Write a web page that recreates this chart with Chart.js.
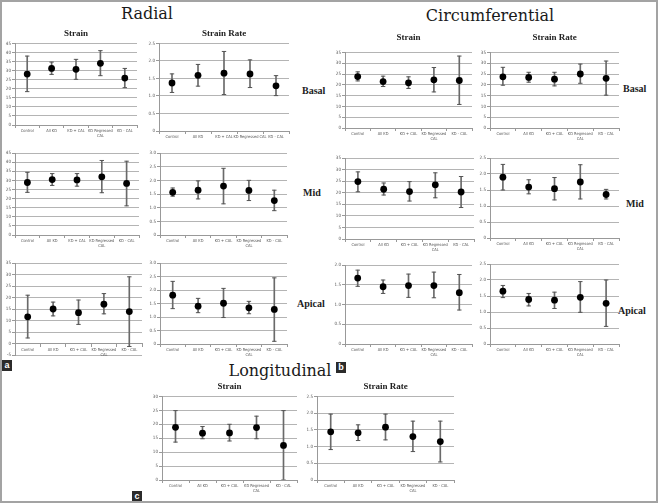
<!DOCTYPE html>
<html>
<head>
<meta charset="utf-8">
<script src="https://cdn.jsdelivr.net/npm/chart.js@4.4.0/dist/chart.umd.min.js"></script>
<style>
  body { margin: 0; background: #fff; }
  #fig { position: relative; width: 658px; height: 503px; overflow: hidden; background: #fff; }
  #frame { position: absolute; left: 0; top: 0; width: 658px; height: 503px; box-sizing: border-box; border: 2px solid #a3a3a3; }
  canvas { position: absolute; }
  .head { position: absolute; font-family: 'DejaVu Serif', serif; font-size: 16px; color: #1a1a1a; white-space: nowrap; transform: translate(-50%, -50%); }
  .row { position: absolute; font-family: 'Liberation Serif', serif; font-size: 10px; font-weight: bold; color: #222; white-space: nowrap; transform: translateY(-50%); }
  .tag { position: absolute; width: 10px; height: 11px; background: #2b2b2b; color: #fff; font: bold 9px 'Liberation Sans', sans-serif; text-align: center; line-height: 11px; }
</style>
</head>
<body>
<div id="fig">
  <div class="head" style="left:147px; top:13px;">Radial</div>
  <div class="head" style="left:490px; top:15px;">Circumferential</div>
  <div class="head" style="left:280px; top:370px;">Longitudinal</div>

  <div class="row" style="left:302px; top:90px;">Basal</div>
  <div class="row" style="left:303px; top:192px;">Mid</div>
  <div class="row" style="left:297px; top:303px;">Apical</div>
  <div class="row" style="left:623px; top:88px;">Basal</div>
  <div class="row" style="left:626px; top:203px;">Mid</div>
  <div class="row" style="left:618px; top:310px;">Apical</div>

  <div class="tag" style="left:2px; top:360px;">a</div>
  <div class="tag" style="left:336px; top:362px;">b</div>
  <div class="tag" style="left:132px; top:491px;">c</div>
  <div id="frame"></div>
</div>

<script>
// categories
const categories = ['Control', 'All KD', 'KD + CAL', ['KD Regressed', 'CAL'], 'KD - CAL'];
const categoriesOneLine = ['Control', 'All KD', 'KD + CAL', 'KD Regressed CAL', 'KD - CAL'];

// y ranges [min, max, step]
const range45 = [0, 45, 5];
const range35 = [0, 35, 5];
const range30 = [0, 30, 5];
const rangeApical = [-5, 35, 5];
const range3 = [0, 3, 0.5];
const range25 = [0, 2.5, 0.5];
const range2 = [0, 2, 0.5];

// Radial
const radStrainBasal = [28.1, 31.2, 30.7, 34.0, 25.9];
const radStrainBasalLo = [18.4, 27.9, 25.2, 27.2, 20.6];
const radStrainBasalHi = [38.0, 34.7, 36.2, 41.0, 31.2];

const radRateBasal = [1.37, 1.59, 1.65, 1.63, 1.29];
const radRateBasalLo = [1.10, 1.28, 1.04, 1.24, 1.01];
const radRateBasalHi = [1.63, 1.90, 2.27, 2.03, 1.58];

const radStrainMid = [28.8, 30.4, 30.2, 31.9, 28.3];
const radStrainMidLo = [23.4, 27.2, 26.8, 23.2, 16.0];
const radStrainMidHi = [34.4, 33.7, 33.7, 40.9, 40.5];

const radRateMid = [1.56, 1.64, 1.79, 1.63, 1.26];
const radRateMidLo = [1.42, 1.32, 1.14, 1.26, 0.89];
const radRateMidHi = [1.72, 1.98, 2.44, 2.00, 1.64];

const radStrainApical = [11.6, 15.0, 13.4, 17.1, 13.9];
const radStrainApicalLo = [2.4, 12.0, 8.3, 12.9, -1.3];
const radStrainApicalHi = [21.0, 18.0, 18.9, 21.7, 29.0];

const radRateApical = [1.81, 1.40, 1.51, 1.34, 1.28];
const radRateApicalLo = [1.31, 1.16, 0.98, 1.12, 0.10];
const radRateApicalHi = [2.32, 1.69, 2.06, 1.58, 2.45];

// Circumferential
const circStrainBasal = [23.8, 21.5, 20.9, 22.3, 22.0];
const circStrainBasalLo = [21.8, 19.2, 18.3, 16.7, 10.9];
const circStrainBasalHi = [26.0, 24.0, 23.7, 28.0, 33.3];

const circRateBasal = [23.7, 23.4, 22.6, 25.0, 23.0];
const circRateBasalLo = [19.8, 21.2, 19.5, 20.7, 15.2];
const circRateBasalHi = [28.1, 25.8, 25.8, 29.6, 31.0];

const circStrainMid = [24.8, 21.5, 20.5, 23.4, 20.3];
const circStrainMidLo = [20.4, 19.0, 16.4, 17.8, 13.6];
const circStrainMidHi = [29.0, 24.2, 24.8, 28.6, 27.0];

const circRateMid = [1.90, 1.59, 1.54, 1.75, 1.36];
const circRateMidLo = [1.50, 1.38, 1.19, 1.22, 1.22];
const circRateMidHi = [2.30, 1.82, 1.89, 2.29, 1.52];

const circStrainApical = [1.67, 1.45, 1.48, 1.48, 1.30];
const circStrainApicalLo = [1.46, 1.28, 1.18, 1.17, 0.86];
const circStrainApicalHi = [1.87, 1.62, 1.77, 1.82, 1.76];

const circRateApical = [1.65, 1.39, 1.37, 1.46, 1.27];
const circRateApicalLo = [1.45, 1.19, 1.11, 0.99, 0.55];
const circRateApicalHi = [1.83, 1.58, 1.62, 1.95, 2.00];

// Longitudinal
const longStrain = [18.9, 16.8, 16.9, 18.8, 12.4];
const longStrainLo = [13.6, 14.8, 14.0, 14.8, 0.0];
const longStrainHi = [24.9, 19.2, 20.0, 22.9, 24.9];

const longRate = [1.44, 1.41, 1.58, 1.30, 1.15];
const longRateLo = [0.91, 1.18, 1.20, 0.85, 0.54];
const longRateHi = [1.97, 1.65, 1.97, 1.76, 1.76];


const fig = document.getElementById('fig');
const tickFamily = "'Liberation Sans Narrow', 'DejaVu Sans Condensed', sans-serif";

// box = plot area in page pixels, title = {text, y}
function makeChart(box, mean, lo, hi, range, labels, title, crossZero) {
  const yW = 14, padTop = 4, padRight = 4;
  const twoLine = labels.some(l => Array.isArray(l));
  const xH = twoLine ? 18 : 12;
  let titleH = 0, titlePad = 0;
  if (title) {
    titlePad = Math.max(box.y - title.y - 5.4, 0);
    titleH = 10.8 + titlePad;
  }
  const padBottom = crossZero ? 9 : 0;
  const left = box.x - yW;
  const top = box.y - padTop - titleH;
  const width = yW + box.w + padRight;
  const height = padTop + titleH + box.h + (crossZero ? padBottom : xH);

  const canvas = document.createElement('canvas');
  canvas.width = width;
  canvas.height = height;
  canvas.style.left = left + 'px';
  canvas.style.top = top + 'px';
  canvas.style.width = width + 'px';
  canvas.style.height = height + 'px';
  fig.insertBefore(canvas, document.getElementById('frame'));

  new Chart(canvas, {
    type: 'bar',
    data: {
      labels: labels,
      datasets: [
        {
          type: 'line', data: mean, showLine: false, order: 0,
          pointRadius: 3.4, pointBackgroundColor: '#000', pointBorderColor: '#000', pointBorderWidth: 0
        },
        {
          type: 'line', data: hi, showLine: false, order: 1,
          pointStyle: 'line', pointRadius: 2.2, pointBorderColor: '#555', pointBorderWidth: 1
        },
        {
          type: 'line', data: lo, showLine: false, order: 1,
          pointStyle: 'line', pointRadius: 2.2, pointBorderColor: '#555', pointBorderWidth: 1
        },
        {
          type: 'bar', data: lo.map((v, i) => [v, hi[i]]), order: 2,
          barThickness: 1, backgroundColor: '#6a6a6a', borderWidth: 0
        }
      ]
    },
    options: {
      responsive: false,
      animation: false,
      events: [],
      layout: { padding: { top: padTop, right: padRight, left: 0, bottom: padBottom } },
      plugins: {
        legend: { display: false },
        tooltip: { enabled: false },
        title: {
          display: !!title,
          fullSize: false,
          text: title ? title.text : '',
          color: '#222',
          font: { family: 'Liberation Serif', size: 9, weight: 'bold' },
          padding: { top: 0, bottom: titlePad }
        }
      },
      scales: {
        x: {
          position: crossZero ? { y: 0 } : 'bottom',
          afterFit: s => { s.height = xH; },
          grid: { drawOnChartArea: false, offset: true, tickLength: 3, tickColor: '#999' },
          border: { color: '#999' },
          ticks: { font: { family: tickFamily, size: 4 }, color: '#555', maxRotation: 0, autoSkip: false, padding: 1 }
        },
        y: {
          min: range[0], max: range[1],
          afterFit: s => { s.width = yW; },
          grid: { color: '#b4b4b4', tickLength: 3, tickColor: '#999' },
          border: { color: '#999' },
          ticks: { stepSize: range[2], font: { family: tickFamily, size: 4.5 }, color: '#555', padding: 1 }
        }
      }
    }
  });
}

// Radial
makeChart({ x: 15, y: 43, w: 123, h: 82 }, radStrainBasal, radStrainBasalLo, radStrainBasalHi, range45, categories, { text: 'Strain', y: 33 });
makeChart({ x: 159, y: 43, w: 131, h: 88 }, radRateBasal, radRateBasalLo, radRateBasalHi, range25, categoriesOneLine, { text: 'Strain Rate', y: 33 });
makeChart({ x: 15, y: 152, w: 125, h: 83 }, radStrainMid, radStrainMidLo, radStrainMidHi, range45, categories);
makeChart({ x: 160, y: 152, w: 128, h: 83 }, radRateMid, radRateMidLo, radRateMidHi, range3, categories);
makeChart({ x: 15, y: 262, w: 128, h: 93 }, radStrainApical, radStrainApicalLo, radStrainApicalHi, rangeApical, categories, null, true);
makeChart({ x: 160, y: 262, w: 128, h: 82 }, radRateApical, radRateApicalLo, radRateApicalHi, range3, categories);

// Circumferential
makeChart({ x: 345, y: 52, w: 128, h: 76 }, circStrainBasal, circStrainBasalLo, circStrainBasalHi, range35, categories, { text: 'Strain', y: 37 });
makeChart({ x: 490, y: 52, w: 130, h: 76 }, circRateBasal, circRateBasalLo, circRateBasalHi, range35, categories, { text: 'Strain Rate', y: 37 });
makeChart({ x: 345, y: 157, w: 130, h: 82 }, circStrainMid, circStrainMidLo, circStrainMidHi, range35, categories);
makeChart({ x: 490, y: 157, w: 130, h: 81 }, circRateMid, circRateMidLo, circRateMidHi, range25, categories);
makeChart({ x: 345, y: 264, w: 128, h: 80 }, circStrainApical, circStrainApicalLo, circStrainApicalHi, range2, categories);
makeChart({ x: 490, y: 263, w: 130, h: 81 }, circRateApical, circRateApicalLo, circRateApicalHi, range25, categories);

// Longitudinal
makeChart({ x: 162, y: 396, w: 136, h: 84 }, longStrain, longStrainLo, longStrainHi, range30, categories, { text: 'Strain', y: 386 });
makeChart({ x: 317, y: 396, w: 138, h: 84 }, longRate, longRateLo, longRateHi, range25, categories, { text: 'Strain Rate', y: 386 });
</script>
</body>
</html>
